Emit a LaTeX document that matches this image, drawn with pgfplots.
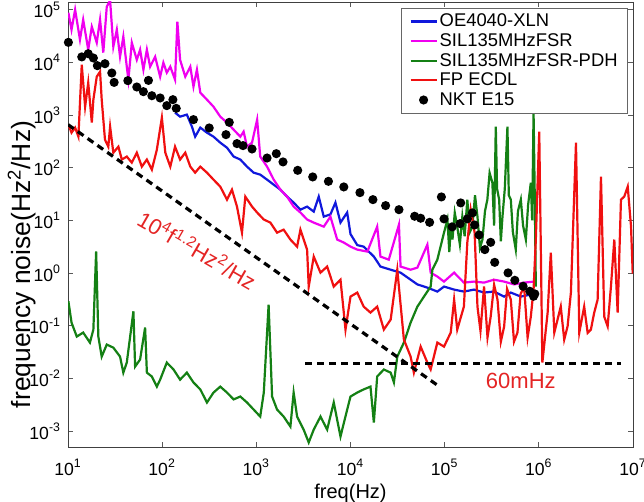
\documentclass[border=0pt]{standalone}
\usepackage{fontspec}
\setmainfont{Liberation Sans}
\usepackage{pgfplots}
\pgfplotsset{compat=1.18}
\definecolor{mblue}{RGB}{16,24,220}
\definecolor{mmag}{RGB}{240,0,240}
\definecolor{mgreen}{RGB}{20,128,20}
\definecolor{mred}{RGB}{240,16,16}
\definecolor{annred}{RGB}{228,36,36}
\pgfplotsset{dotlegend/.style={legend image code/.code={\draw[##1] plot coordinates {(6.5bp,0bp)};}}}

\begin{document}
\begin{tikzpicture}
\useasboundingbox (-34bp,-27.5bp) rectangle (288bp,223.5bp);
\begin{axis}[
  scale only axis, width=282.5bp, height=222.5bp,
  xmode=log, ymode=log, log basis x=10, log basis y=10,
  xmin=10, xmax=1e7, ymin=5e-4, ymax=1.4e5,
  xtick={1e1,1e2,1e3,1e4,1e5,1e6,1e7},
  ytick={1e-3,1e-2,1e-1,1,1e1,1e2,1e3,1e4,1e5},
  xticklabel={10\textsuperscript{\pgfmathparse{int(round(\tick))}\pgfmathresult}},
  yticklabel={10\textsuperscript{\pgfmathparse{int(round(\tick))}\pgfmathresult}},
  tick label style={font=\fontsize{8.8bp}{9.5bp}\selectfont},
  xticklabel style={yshift=-2.5bp},
  tick align=inside, major tick length=2.5bp, minor tick length=1.5bp,
  axis line style={black!75}, every tick/.style={black!65, line width=0.4bp},
  xlabel={freq(Hz)},
  ylabel={frequency noise(Hz\textsuperscript{2}/Hz)},
  xlabel style={font=\fontsize{10bp}{11bp}\selectfont, at={(axis description cs:0.5,-0.104)}, anchor=center},
  ylabel style={font=\fontsize{13.2bp}{14bp}\selectfont, at={(axis description cs:-0.0814,0.41)}, anchor=center},
  legend style={at={(rel axis cs:1,1)}, anchor=north east, xshift=-2.5bp, yshift=-3bp,
    font=\fontsize{9.2bp}{10bp}\selectfont, draw=black!60, fill=white,
    inner xsep=4bp, inner ysep=1.7bp, row sep=0pt,
    nodes={inner xsep=1bp, inner ysep=0.4bp, text height=7.2bp, text depth=1.8bp},
    /tikz/every even column/.append style={column sep=1.5bp}},
  legend cell align=left,
  legend image code/.code={\draw[#1] (0bp,0bp) -- (13bp,0bp);},
  every axis plot/.append style={line width=1.1bp},
]
\addplot[mblue] coordinates {
(137,1110)(155,933)(183,1020)(207,603)(224,389)(254,577)(299,463)(351,389)(414,299)(488,240)
(574,163)(676,143)(796,105)(936,80.7)(1100,74.0)(1300,59.4)(1530,47.7)(1800,38.4)(2120,28.3)
(2490,21.8)(2940,16.0)(3460,18.3)(4070,14.7)(4600,28.3)(5200,11.8)(6120,13)(6920,21.8)(7830,9.08)
(9220,14.1)(10000,5.5)(11800,3.4)(13800,3.18)(17700,2.06)(20800,1.33)(26700,1.16)(34000,1.02)
(43500,0.75)(51300,0.61)(65500,0.53)(83600,0.446)(98400,0.555)(1.26e5,0.486)(1.60e5,0.446)
(2.05e5,0.486)(2.62e5,0.427)(3.34e5,0.446)(4.28e5,0.358)(5.04e5,0.427)(6.44e5,0.358)(8.22e5,0.391)(9.29e5,0.358)};
\addlegendentry{OE4040-XLN}
\addplot[mmag] coordinates {
(10.1,8.77e4)(10.9,4.17e4)(11.9,1.0e5)(13.4,2.70e4)(14.5,6.46e4)(16.4,1.74e4)(17.9,4.75e4)(20.2,2.37e4)
(21.9,6.46e4)(23.7,1.53e4)(25.8,1.14e5)(28.0,1.5e5)(30.3,1.99e4)(33.0,4.17e4)(35.7,1.28e4)(38.7,3.08e4)
(42.1,8.28e3)(43.8,4.70e3)(47.6,2.37e4)(53.8,1.12e4)(58.3,1.74e4)(63.2,7.27e3)(68.8,1.74e4)(74.5,8.28e3)
(84.2,1.28e4)(95.2,5.36e3)(103,9.87e3)(112,6.38e3)(122,8.28e3)(137,4.70e3)(145,5.92e4)(155,1.12e4)
(176,5.36e3)(199,8.28e3)(215,3.46e3)(234,7.27e3)(254,2.66e3)(299,1.96e3)(351,1.44e3)(414,933)
(488,718)(574,528)(676,389)(733,484)(796,251)(900,299)(1020,819)(1100,163)(1300,105)(1530,59.4)
(1800,38.4)(2120,28.3)(2490,18.3)(2940,14.1)(3460,10.4)(4070,9.08)(5200,7.62)(6120,11.8)(7220,4.33)
(8490,3.80)(10000,3.18)(11800,2.79)(15100,2.56)(19200,7.62)(20800,2.06)(25500,1.80)(32700,8.32)
(34000,1.33)(43500,1.16)(51300,1.27)(65500,3.47)(71000,1.02)(83600,0.86)(98400,0.69)(1.26e5,1.02)
(1.60e5,0.66)(2.05e5,0.69)(2.62e5,0.66)(3.34e5,0.75)(4.28e5,0.69)(5.46e5,0.61)(6.98e5,0.66)(8.91e5,0.69)};
\addlegendentry{SIL135MHzFSR}
\addplot[mgreen] coordinates {
(10.1,0.292)(10.9,0.115)(12.4,0.0624)(14.5,0.0743)(17.1,0.048)(18.6,0.0847)(19.9,2.59)(21.0,0.0624)
(22.8,0.026)(25.8,0.044)(30.3,0.0385)(35.7,0.026)(38.7,0.0129)(42.1,0.020)(49.5,0.188)(51.6,0.0168)
(58.3,0.0229)(65.9,0.0925)(68.8,0.0129)(77.7,0.0109)(87.8,0.0070)(95.2,0.0095)(112,0.020)(132,0.0148)
(155,0.0095)(183,0.0129)(215,0.0084)(254,0.0062)(299,0.0035)(351,0.0054)(414,0.0070)(488,0.0054)
(574,0.0040)(676,0.00454)(796,0.0035)(936,0.00257)(1100,0.00189)(1200,0.0054)(1350,0.252)(1470,0.00454)
(1660,0.00257)(1950,0.00189)(2300,0.00122)(2490,0.0054)(2710,0.00189)(3180,0.00107)(3600,0.00061)
(4070,0.00107)(4800,0.00189)(5650,0.00107)(6640,0.0035)(7830,0.00079)(9220,0.00257)(10000,0.00454)
(11800,0.0054)(13800,0.0062)(16300,0.0070)(17700,0.00146)(19200,0.0109)(22600,0.0148)(26700,0.0129)
(28900,0.0084)(31400,0.026)(36900,0.048)(43500,0.115)(51300,0.231)(60300,0.358)(71000,0.555)
(74000,1.16)(83600,1.80)(98400,5.86)(1.07e5,10.4)(1.12e5,2.5)(1.17e5,9)(1.21e5,4.33)(1.28e5,14)
(1.36e5,7.62)(1.45e5,3.5)(1.54e5,11.8)(1.63e5,5)(1.74e5,24.8)(1.85e5,6)(1.97e5,7.62)(2.1e5,30)
(2.23e5,11.8)(2.37e5,3)(2.52e5,4.33)(2.68e5,15)(2.84e5,24.8)(3.0e5,80)(3.21e5,52.1)(3.35e5,8)
(3.49e5,603)(3.6e5,40)(3.79e5,24.8)(3.95e5,4)(4.11e5,11.8)(4.35e5,40)(4.64e5,603)(4.8e5,30)
(5.04e5,24.8)(5.3e5,6)(5.69e5,2.79)(6.0e5,15)(6.44e5,24.8)(6.8e5,8)(7.28e5,4.33)(7.7e5,20)
(8.22e5,52.1)(8.5e5,10)(8.79e5,1110)(9.06e5,24.8)(9.29e5,0.555)};
\addlegendentry{SIL135MHzFSR-PDH}
\addplot[mred] coordinates {
(10.1,658)(10.9,463)(11.9,577)(12.9,389)(14.0,9040)(15.2,1440)(16.4,4120)(17.9,718)(18.6,1960)
(20.2,5360)(21.9,6660)(22.8,1960)(24.7,341)(26.8,251)(28.0,603)(30.3,193)(34.3,251)(37.3,143)
(42.1,163)(47.6,125)(53.8,193)(60.8,105)(68.8,143)(77.7,92)(87.8,220)(99.3,893)(108,193)(122,105)
(137,251)(155,143)(176,193)(199,105)(224,80.7)(254,105)(299,80.7)(351,59.4)(414,43.8)(488,24.8)
(551,38.4)(623,18.3)(704,5.86)(764,28.3)(900,18.3)(1020,14.1)(1200,10.4)(1410,9.08)(1660,5.86)
(1950,6.68)(2300,4.33)(2710,3.18)(2940,6.68)(3460,2.79)(3600,0.555)(4070,2.06)(4800,1.02)(5650,1.33)
(6640,0.555)(7830,0.75)(8850,0.0847)(10000,0.358)(11800,0.427)(13800,0.231)(16300,0.178)(19200,0.231)
(22600,0.0847)(26700,0.131)(31400,1.16)(36900,0.0547)(43500,0.026)(47100,0.0129)(55600,0.0402)
(65500,0.020)(71000,0.0148)(83600,0.048)(98400,0.0402)(1.16e5,0.0743)(1.26e5,0.314)(1.36e5,0.0847)
(1.60e5,0.231)(1.74e5,3.80)(1.89e5,16.0)(2.08e5,5.86)(2.23e5,0.231)(2.4e5,0.08)(2.62e5,0.555)
(2.85e5,0.06)(3.08e5,0.149)(3.35e5,0.6)(3.64e5,0.314)(3.95e5,0.05)(4.28e5,0.0966)(4.6e5,0.5)
(5.04e5,0.314)(5.45e5,0.05)(5.93e5,0.0743)(6.4e5,0.4)(6.98e5,0.555)(7.6e5,0.06)(8.22e5,0.149)
(8.8e5,0.5)(9.29e5,4.33)(1.01e6,484)(1.09e6,0.020)(1.24e6,0.178)(1.34e6,2.45)(1.46e6,0.0743)
(1.71e6,0.231)(1.86e6,0.0547)(2.02e6,0.0977)(2.19e6,0.427)(2.48e6,299)(2.69e6,0.0743)(3.03e6,0.231)
(3.30e6,0.0733)(3.57e6,0.0847)(3.87e6,0.176)(4.21e6,0.314)(4.57e6,67.8)(4.95e6,0.149)(5.38e6,0.0977)
(5.83e6,0.555)(6.33e6,4.33)(6.87e6,0.178)(7.45e6,24.8)(8.07e6,28.3)(8.79e6,43.8)(9.53e6,7.62)(9.93e6,0.98)};
\addlegendentry{FP ECDL}
\addplot[only marks, mark=*, mark size=1.7bp, black, dotlegend] coordinates {
(10.1,2.4e4)(14.0,1.27e4)(16.4,1.46e4)(18.6,1.21e4)(20.5,8660)(24.7,9440)(29.2,6290)(30.9,4170)
(43.2,4500)(53.8,3410)(63.2,2780)(71.5,4550)(77.7,2330)(95.2,2110)(112,1510)(130,1960)(141,1340)
(215,819)(316,569)(476,425)(516,727)(623,287)(722,263)(900,227)(1300,153)(1630,185)(1920,129)
(2750,89.3)(3970,66.9)(5830,55.2)(8490,43.2)(12600,33.7)(17300,24.8)(23600,19.1)(32700,16.0)
(48000,12.0)(55600,11.0)(69200,9.2)(92300,27.9)(98400,10.7)(1.20e5,7.53)(1.46e5,8.69)(1.48e5,21.5)
(1.74e5,10.7)(1.97e5,13.9)(2.08e5,8.2)(2.32e5,5.3)(2.67e5,2.79)(3.08e5,3.84)(3.40e5,1.60)
(4.71e5,1.01)(5.56e5,0.73)(6.81e5,0.562)(8.02e5,0.452)(8.79e5,0.363)(9.06e5,0.403)};
\addlegendentry{NKT E15}
% reference lines
\addplot[black, line width=1.6bp, dash pattern=on 3.5bp off 2.5bp, forget plot] coordinates {(10,658)(86900,0.00711)};
\addplot[black, line width=1.6bp, dash pattern=on 3.5bp off 2.5bp, forget plot] coordinates {(3320,0.0192)(7.45e6,0.0192)};
\node[rotate=-30, text=annred, font=\fontsize{11bp}{12bp}\selectfont] at (axis cs:236,2.79)
  {10\textsuperscript{4}f\textsuperscript{1.2}Hz\textsuperscript{2}/Hz};
\node[text=annred, font=\fontsize{11bp}{12bp}\selectfont] at (axis cs:6.44e5,0.00912) {60mHz};
\end{axis}
\end{tikzpicture}
\end{document}
